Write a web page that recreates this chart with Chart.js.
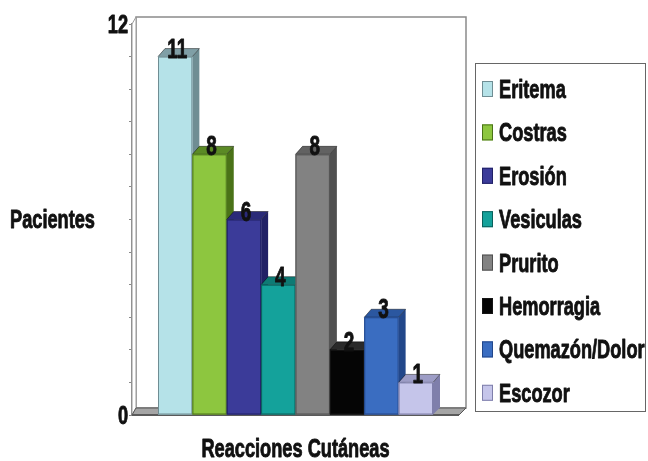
<!DOCTYPE html>
<html>
<head>
<meta charset="utf-8">
<script src="https://cdn.jsdelivr.net/npm/chart.js@4.4.0/dist/chart.umd.min.js"></script>
<style>
  html, body { margin: 0; padding: 0; background: #fff; }
  #wrap { width: 648px; height: 461px; }
</style>
</head>
<body>
<div id="wrap"><canvas id="reaccionesChart" width="648" height="461"></canvas></div>
<script>
// datos
const categorias = ["Reacciones Cutáneas"];
const reacciones = ["Eritema", "Costras", "Erosión", "Vesiculas", "Prurito", "Hemorragia", "Quemazón/Dolor", "Escozor"];
const pacientes = [11, 8, 6, 4, 8, 2, 3, 1];
const yEtiquetas = [0, 12];

const frontColors = ["#b5e2e8", "#8dc63f", "#3b3b99", "#14a29b", "#828282", "#050505", "#3a6dc1", "#c5c5ea"];
const topColors   = ["#809fa6", "#5b8a25", "#2a2a78", "#0e7a74", "#626262", "#2a2a2a", "#2b57a0", "#9d9dc6"];
const sideColors  = ["#6f8d93", "#4a7218", "#212166", "#0a605b", "#505050", "#151515", "#22478a", "#7f7fab"];

const FONT = "'Liberation Sans', Arial, sans-serif";
const NARROW = 0.7;
const DX = 7, DY = 8;      // profundidad de las barras
const WX = 4, WY = 7;      // profundidad de las paredes

// texto condensado y grueso (tipo Helvetica Condensed Black)
function narrowText(ctx, text, x, y, size, align) {
  ctx.save();
  ctx.font = "bold " + size + "px " + FONT;
  const w = ctx.measureText(text).width * NARROW;
  let x0 = x;
  if (align === "center") x0 = x - w / 2;
  else if (align === "right") x0 = x - w;
  ctx.translate(x0, y);
  ctx.scale(NARROW, 1);
  ctx.textAlign = "left";
  ctx.textBaseline = "alphabetic";
  ctx.fillText(text, 0, 0);
  ctx.strokeStyle = ctx.fillStyle;
  ctx.lineWidth = 0.9;
  ctx.lineJoin = "round";
  ctx.strokeText(text, 0, 0);
  ctx.restore();
}

const datasets = reacciones.map((r, i) => ({
  label: r,
  data: [pacientes[i]],
  backgroundColor: frontColors[i],
  borderColor: sideColors[i],
  borderWidth: 1,
  topColor: topColors[i],
  sideColor: sideColors[i]
}));

const chart3dPlugin = {
  id: "chart3d",
  beforeDatasetsDraw(chart) {
    const ctx = chart.ctx;
    const { left: L, right: R, top: T, bottom: B } = chart.chartArea;
    ctx.save();
    // pared del fondo
    ctx.strokeStyle = "#8a8a8a";
    ctx.lineWidth = 1.5;
    ctx.strokeRect(L + WX, T - WY, R + DX - L - WX, B - T);
    // pared izquierda
    ctx.lineWidth = 1;
    ctx.beginPath();
    ctx.moveTo(L, T);
    ctx.lineTo(L + WX, T - WY);
    ctx.lineTo(L + WX, B - WY);
    ctx.lineTo(L, B);
    ctx.closePath();
    ctx.fillStyle = "#fff";
    ctx.fill();
    ctx.strokeStyle = "#9a9a9a";
    ctx.stroke();
    // piso
    ctx.beginPath();
    ctx.moveTo(L, B);
    ctx.lineTo(L + WX, B - WY);
    ctx.lineTo(R + DX, B - WY);
    ctx.lineTo(R, B);
    ctx.closePath();
    ctx.fillStyle = "#a5a5a5";
    ctx.fill();
    ctx.strokeStyle = "#555";
    ctx.stroke();
    ctx.fillStyle = "#5a5a5a";
    ctx.fillRect(L, B - 1, R - L, 2);
    ctx.restore();
  },
  afterDatasetsDraw(chart) {
    const ctx = chart.ctx;
    ctx.save();
    chart.data.datasets.forEach((ds, i) => {
      const bar = chart.getDatasetMeta(i).data[0];
      const { x, y, base, width } = bar.getProps(["x", "y", "base", "width"], true);
      const l = x - width / 2, r = x + width / 2;
      ctx.fillStyle = ds.sideColor;
      ctx.beginPath();
      ctx.moveTo(r, y); ctx.lineTo(r + DX, y - DY); ctx.lineTo(r + DX, base - WY); ctx.lineTo(r, base);
      ctx.closePath(); ctx.fill();
      ctx.fillStyle = ds.topColor;
      ctx.beginPath();
      ctx.moveTo(l, y); ctx.lineTo(l + DX, y - DY); ctx.lineTo(r + DX, y - DY); ctx.lineTo(r, y);
      ctx.closePath(); ctx.fill();
      ctx.strokeStyle = "rgba(0,0,0,0.45)";
      ctx.lineWidth = 1;
      ctx.stroke();
      ctx.fillStyle = ds.backgroundColor;
      ctx.fillRect(l, y, width, base - y);
      ctx.strokeStyle = ds.sideColor;
      ctx.strokeRect(l + 0.5, y + 0.5, width - 1, base - y - 1);
    });
    // valores sobre las barras
    ctx.fillStyle = "#111";
    chart.data.datasets.forEach((ds, i) => {
      const bar = chart.getDatasetMeta(i).data[0];
      narrowText(ctx, String(ds.data[0]), bar.x + 2, bar.y + 1, 27, "center");
    });
    ctx.restore();
  },
  afterDraw(chart) {
    const ctx = chart.ctx;
    const yScale = chart.scales.y;
    const { left: L, right: R } = chart.chartArea;
    ctx.save();
    ctx.fillStyle = "#111";
    // etiquetas del eje y
    yEtiquetas.forEach(v => {
      narrowText(ctx, String(v), L - 4, yScale.getPixelForValue(v) + 9, 26, "right");
    });
    // titulos de ejes
    narrowText(ctx, "Pacientes", 10, 228, 26, "left");
    narrowText(ctx, categorias[0], (L + R) / 2, 457, 26, "center");
    // leyenda
    ctx.strokeStyle = "#666";
    ctx.lineWidth = 1;
    ctx.strokeRect(475.5, 63.5, 170, 348);
    chart.data.datasets.forEach((ds, i) => {
      const cy = 89 + i * 43.4;
      ctx.fillStyle = ds.backgroundColor;
      ctx.fillRect(482, cy - 8, 11, 16);
      ctx.strokeStyle = ds.sideColor;
      ctx.strokeRect(482.5, cy - 7.5, 10, 15);
      ctx.fillStyle = "#111";
      narrowText(ctx, ds.label, 499, cy + 9, 26, "left");
    });
    ctx.restore();
  }
};

new Chart(document.getElementById("reaccionesChart"), {
  type: "bar",
  data: { labels: categorias, datasets: datasets },
  options: {
    responsive: false,
    animation: false,
    layout: { padding: { top: 24, right: 189, left: 0, bottom: 0 } },
    datasets: { bar: { categoryPercentage: 0.841, barPercentage: 1 } },
    plugins: {
      tooltip: { enabled: false },
      legend: { display: false }
    },
    scales: {
      x: {
        grid: { display: false },
        border: { display: false },
        ticks: { display: false },
        afterFit: s => { s.height = 46; }
      },
      y: {
        min: 0,
        max: 12,
        ticks: {
          stepSize: 1,
          autoSkip: false,
          padding: 0,
          callback: () => ""
        },
        grid: { drawOnChartArea: false, drawTicks: true, tickLength: 3, color: "#888" },
        border: { color: "#888", width: 1.5 },
        afterFit: s => { s.width = 132; }
      }
    }
  },
  plugins: [chart3dPlugin]
});
</script>
</body>
</html>
